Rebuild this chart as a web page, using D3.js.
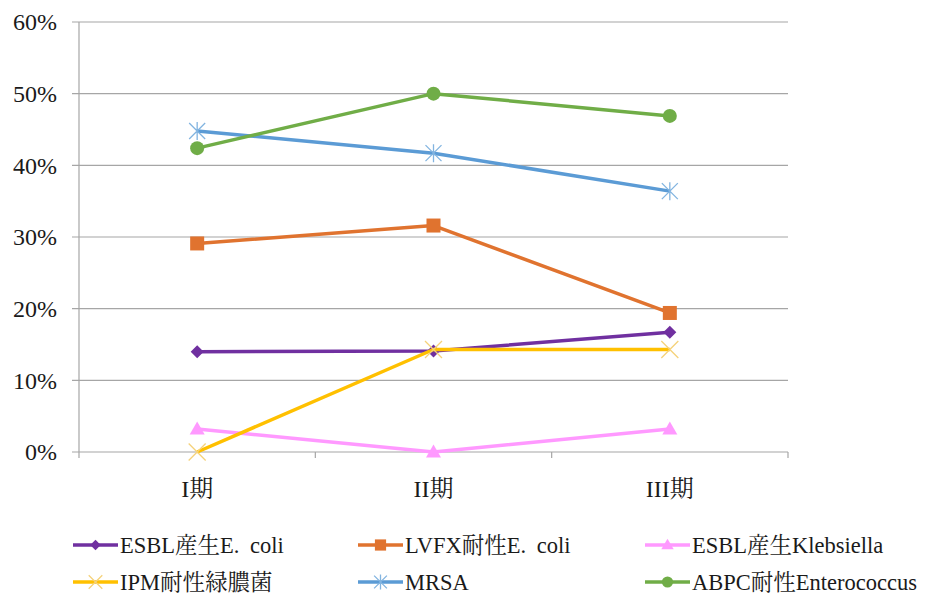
<!DOCTYPE html>
<html>
<head>
<meta charset="utf-8">
<script src="https://cdn.jsdelivr.net/npm/d3@7"></script>
<style>
  html, body { margin: 0; padding: 0; background: #fff; }
  svg { display: block; }
</style>
</head>
<body>
<svg id="chart" width="927" height="594"></svg>
<script>
// Periods on the x axis
const periods = ["I期", "II期", "III期"];

// Resistance rates (%) per period
const esblEcoli = [14.0, 14.1, 16.7];
const lvfxEcoli = [29.1, 31.6, 19.4];
const esblKleb  = [3.2, 0.0, 3.2];
const ipmPseudo = [0.0, 14.3, 14.3];
const mrsa      = [44.8, 41.7, 36.4];
const abpcEnt   = [42.4, 50.0, 46.9];

const yTicks = [0, 10, 20, 30, 40, 50, 60];

const series = [
  { name: "ESBL産生E. coli",        values: esblEcoli, color: "#7030A0", marker: "diamond" },
  { name: "LVFX耐性E. coli",        values: lvfxEcoli, color: "#E0732F", marker: "square" },
  { name: "ESBL産生Klebsiella",     values: esblKleb,  color: "#FF99FF", marker: "triangle" },
  { name: "IPM耐性緑膿菌",           values: ipmPseudo, color: "#FFC000", marker: "cross" },
  { name: "MRSA",                   values: mrsa,      color: "#5B9BD5", marker: "star" },
  { name: "ABPC耐性Enterococcus",   values: abpcEnt,   color: "#70AD47", marker: "circle" }
];

const FONT = '"Liberation Serif", "Noto Serif CJK JP", "Noto Sans CJK JP", serif';
const TEXT_COLOR = "#1a1a1a";

const svg = d3.select("#chart");

const plot = { left: 79, right: 788, top: 22, bottom: 452 };

const x = d3.scaleBand().domain(periods).range([plot.left, plot.right]);
const y = d3.scaleLinear().domain([0, 60]).range([plot.bottom, plot.top]);
const cx = p => x(p) + x.bandwidth() / 2;

// Horizontal gridlines with left tick marks
svg.append("g")
  .selectAll("line")
  .data(yTicks)
  .join("line")
  .attr("x1", plot.left - 7)
  .attr("x2", plot.right)
  .attr("y1", d => y(d))
  .attr("y2", d => y(d))
  .attr("stroke", "#a6a6a6")
  .attr("stroke-width", 1.2);

// Vertical axis line
svg.append("line")
  .attr("x1", plot.left).attr("x2", plot.left)
  .attr("y1", plot.top).attr("y2", plot.bottom + 6)
  .attr("stroke", "#a6a6a6").attr("stroke-width", 1.2);

// Category boundary tick marks below the baseline
svg.append("g")
  .selectAll("line")
  .data(periods)
  .join("line")
  .attr("x1", d => x(d) + x.bandwidth())
  .attr("x2", d => x(d) + x.bandwidth())
  .attr("y1", plot.bottom)
  .attr("y2", plot.bottom + 6)
  .attr("stroke", "#a6a6a6").attr("stroke-width", 1.2);

// Y tick labels
svg.append("g")
  .selectAll("text")
  .data(yTicks)
  .join("text")
  .attr("x", plot.left - 22)
  .attr("y", d => y(d))
  .attr("dy", "0.35em")
  .attr("text-anchor", "end")
  .style("font-family", FONT)
  .style("font-size", "24px")
  .attr("fill", TEXT_COLOR)
  .text(d => d + "%");

// X category labels
svg.append("g")
  .selectAll("text")
  .data(periods)
  .join("text")
  .attr("x", d => cx(d))
  .attr("y", 497)
  .attr("text-anchor", "middle")
  .style("font-family", FONT)
  .style("font-size", "24px")
  .attr("fill", TEXT_COLOR)
  .text(d => d);

// Marker drawing
function drawMarker(g, type, color, size) {
  const s = size;
  switch (type) {
    case "diamond":
      g.append("path").attr("d", `M0,${-s / 2}L${s / 2},0L0,${s / 2}L${-s / 2},0Z`)
        .attr("fill", color);
      break;
    case "square":
      g.append("rect").attr("x", -s / 2).attr("y", -s / 2).attr("width", s).attr("height", s)
        .attr("fill", color);
      break;
    case "triangle":
      g.append("path").attr("d", `M0,${-s / 2 - 1}L${s / 2 + 1},${s / 2 - 1}L${-s / 2 - 1},${s / 2 - 1}Z`)
        .attr("fill", color);
      break;
    case "circle":
      g.append("circle").attr("r", s / 2).attr("fill", color);
      break;
    case "cross": {
      const h = s / 2;
      g.append("path").attr("d", `M${-h},${-h}L${h},${h}M${-h},${h}L${h},${-h}`)
        .attr("stroke", color).attr("stroke-width", 1.3).attr("fill", "none");
      break;
    }
    case "star": {
      const h = s / 2;
      g.append("path")
        .attr("d", `M${-h},${-h}L${h},${h}M${-h},${h}L${h},${-h}M0,${-h - 1}L0,${h + 1}`)
        .attr("stroke", color).attr("stroke-width", 1.3).attr("fill", "none");
      break;
    }
  }
}

const markerSize = { diamond: 13, square: 14, triangle: 13, circle: 14, cross: 17, star: 16 };
const markerTint = { cross: "#F5D27A", star: "#82B4E0" };

const line = d3.line()
  .x((d, i) => cx(periods[i]))
  .y(d => y(d));

// Series lines and markers
series.forEach(s => {
  const g = svg.append("g");
  g.append("path")
    .datum(s.values)
    .attr("d", line)
    .attr("fill", "none")
    .attr("stroke", s.color)
    .attr("stroke-width", 3.5)
    .attr("stroke-linejoin", "round");
  s.values.forEach((v, i) => {
    const m = g.append("g").attr("transform", `translate(${cx(periods[i])},${y(v)})`);
    drawMarker(m, s.marker, markerTint[s.marker] || s.color, markerSize[s.marker]);
  });
});

// Legend
const legendCols = [73, 358, 645];
const legendRows = [545, 582];
series.forEach((s, i) => {
  const lx = legendCols[i % 3];
  const ly = legendRows[Math.floor(i / 3)];
  const g = svg.append("g").attr("transform", `translate(${lx},${ly})`);
  g.append("line").attr("x1", 0).attr("x2", 45).attr("y1", 0).attr("y2", 0)
    .attr("stroke", s.color).attr("stroke-width", 3.5);
  const m = g.append("g").attr("transform", "translate(22.5,0)");
  drawMarker(m, s.marker, markerTint[s.marker] || s.color, markerSize[s.marker] * 0.8);
  g.append("text")
    .attr("x", 47).attr("y", 0).attr("dy", "0.35em")
    .style("font-family", FONT)
    .style("font-size", "22.5px")
    .style("word-spacing", "5px")
    .attr("fill", TEXT_COLOR)
    .text(s.name);
});
</script>
</body>
</html>
